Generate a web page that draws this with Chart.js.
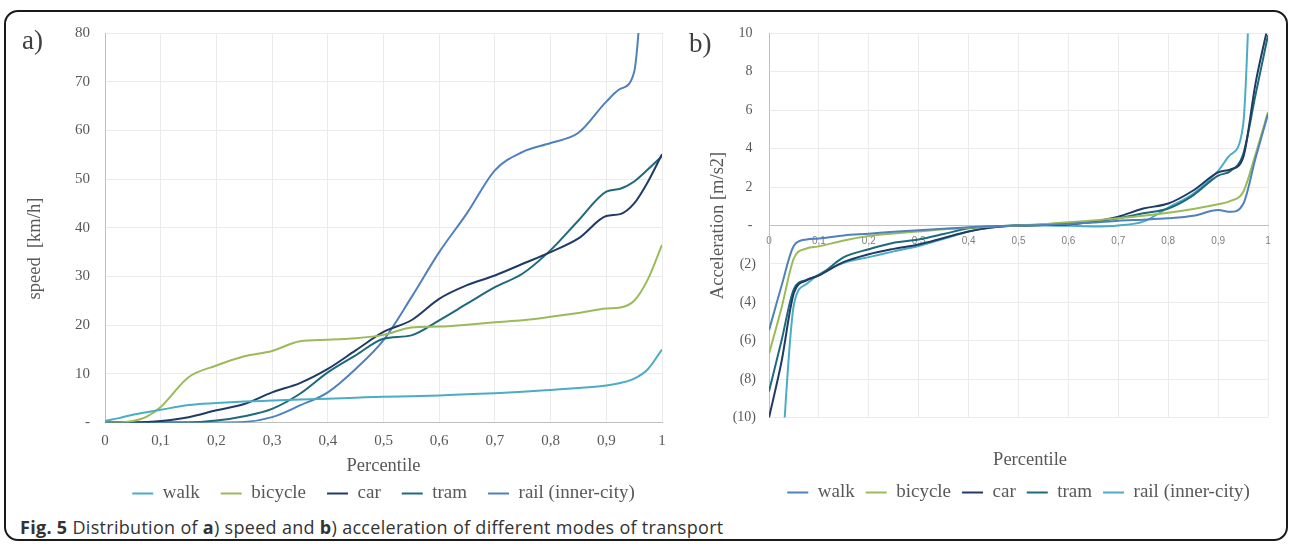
<!DOCTYPE html>
<html><head><meta charset="utf-8">
<script src="https://cdn.jsdelivr.net/npm/chart.js@4.4.0/dist/chart.umd.min.js"></script>
<style>
html,body{margin:0;padding:0;background:#fff;}
body{width:1290px;height:548px;position:relative;overflow:hidden;}
#frame{position:absolute;left:4px;top:10px;width:1284px;height:531px;border:2px solid #1a1a1a;border-radius:14px;box-sizing:border-box;}
.lbl{position:absolute;font-family:'Liberation Serif','Times New Roman',serif;font-size:27px;color:#404040;line-height:1;}
#cap{position:absolute;left:20px;top:515px;font-family:'Open Sans','Noto Sans',sans-serif;font-size:18px;letter-spacing:0.3px;color:#333;white-space:nowrap;}
#cap b{font-weight:700;}
canvas{position:absolute;}
</style></head>
<body>
<div id="frame"></div>
<canvas id="c1" width="672" height="504" style="left:10px;top:9px"></canvas>
<canvas id="c2" width="600" height="500" style="left:684px;top:12px"></canvas>
<div class="lbl" style="left:22px;top:27px">a)</div>
<div class="lbl" style="left:689px;top:30px">b)</div>
<div id="cap"><b>Fig. 5</b> Distribution of <b>a</b>) speed and <b>b</b>) acceleration of different modes of transport</div>
<script>
const percentile = [0, 0.025, 0.05, 0.075, 0.1, 0.15, 0.2, 0.25, 0.3, 0.35, 0.4, 0.45, 0.5, 0.55, 0.6, 0.65, 0.7, 0.75, 0.8, 0.85, 0.9, 0.925, 0.95, 0.975, 1];
const seriesNames = ['walk', 'bicycle', 'car', 'tram', 'rail (inner-city)'];

// speed [km/h]
const walkSpeed    = [0.3, 0.9, 1.6, 2.1, 2.6, 3.6, 4.0, 4.3, 4.5, 4.7, 4.9, 5.1, 5.3, 5.4, 5.55, 5.8, 6.0, 6.3, 6.7, 7.1, 7.6, 8.1, 9.0, 11.0, 15.0];
const bicycleSpeed = [0, 0, 0.3, 1.2, 3.2, 9.3, 11.7, 13.6, 14.7, 16.7, 17.0, 17.3, 18.0, 19.5, 19.7, 20.1, 20.6, 21.0, 21.7, 22.5, 23.4, 23.6, 25.0, 29.5, 36.5];
const carSpeed     = [0, 0, 0, 0.1, 0.3, 1.1, 2.5, 3.8, 6.2, 8.1, 11.0, 14.8, 18.6, 21.0, 25.4, 28.2, 30.2, 32.6, 35.0, 37.8, 42.4, 42.8, 45.0, 49.5, 55.1];
const tramSpeed    = [0, 0, 0, 0, 0, 0, 0.4, 1.3, 2.8, 5.9, 10.3, 13.8, 17.2, 17.9, 21.0, 24.4, 27.8, 30.6, 35.4, 41.5, 47.4, 48.0, 49.5, 52.0, 54.7];
const railSpeed    = [0, 0, 0, 0, 0, 0, 0, 0.1, 1.1, 3.5, 6.2, 11.0, 16.9, 25.7, 35.0, 43.0, 51.8, 55.6, 57.4, 59.5, 65.9, 68.5, 72.0, 110, 150];

// acceleration [m/s2]
const walkAccel    = [-5.46, -3.15, -1.05, -0.73, -0.68, -0.52, -0.43, -0.33, -0.25, -0.17, -0.09, -0.04, 0, 0.02, 0.08, 0.15, 0.25, 0.3, 0.37, 0.5, 0.8, 0.71, 1.1, 3.5, 5.8];
const bicycleAccel = [-6.68, -4.3, -1.7, -1.2, -1.09, -0.78, -0.55, -0.42, -0.31, -0.2, -0.12, -0.05, 0, 0.07, 0.17, 0.26, 0.37, 0.5, 0.66, 0.86, 1.1, 1.28, 1.73, 3.7, 5.9];
const carAccel     = [-10, -7.1, -3.5, -2.86, -2.6, -1.9, -1.5, -1.22, -0.99, -0.65, -0.31, -0.1, 0, 0.02, 0.05, 0.2, 0.46, 0.88, 1.14, 1.82, 2.76, 2.92, 3.52, 7.4, 10.4];
const tramAccel    = [-8.64, -6.0, -3.3, -2.84, -2.6, -1.65, -1.24, -0.9, -0.73, -0.45, -0.15, -0.05, 0, 0.03, 0.08, 0.18, 0.37, 0.63, 0.88, 1.57, 2.59, 2.84, 3.69, 6.8, 9.9];
const railAccel    = [-22, -12.5, -4.1, -3.05, -2.55, -1.95, -1.65, -1.35, -1.07, -0.7, -0.31, -0.1, 0, 0, -0.02, -0.05, 0, 0.2, 0.93, 1.65, 2.84, 3.69, 5.2, 22, 40];

const xTickLabels = ['0', '0,1', '0,2', '0,3', '0,4', '0,5', '0,6', '0,7', '0,8', '0,9', '1'];
const speedTickLabels = ['-', '10', '20', '30', '40', '50', '60', '70', '80'];
const accelTickLabels = ['(10)', '(8)', '(6)', '(4)', '(2)', '- ', '2 ', '4 ', '6 ', '8 ', '10 '];

const speedColors = ['#4bacc6', '#9bbb59', '#1f3b66', '#1d6a7a', '#4f81bd'];
const accelColors = ['#4f81bd', '#9bbb59', '#1f3b66', '#1d6a7a', '#4bacc6'];

const SERIF = "'Liberation Serif','Times New Roman',serif";
const GRAY = '#595959';
const GRID = '#ebebeb';
const AXIS = '#bfbfbf';

function mk(arrs, colors) {
  return arrs.map((a, k) => ({
    label: seriesNames[k],
    data: percentile.map((p, i) => ({x: p, y: a[i]})),
    borderColor: colors[k],
    backgroundColor: colors[k],
    borderWidth: 2,
    pointRadius: 0,
    fill: false,
    cubicInterpolationMode: 'monotone'
  }));
}

function legendOpts(pad) {
  return {
    position: 'bottom',
    fullSize: false,
    labels: {
      usePointStyle: true, pointStyle: 'line', pointStyleWidth: 21,
      color: GRAY, font: {family: SERIF, size: 19}, padding: pad
    }
  };
}

new Chart(document.getElementById('c1'), {
  type: 'line',
  data: {datasets: mk([walkSpeed, bicycleSpeed, carSpeed, tramSpeed, railSpeed], speedColors)},
  options: {
    responsive: false, animation: false,
    layout: {padding: {top: 1, right: 20, left: 14, bottom: 0}},
    plugins: {legend: legendOpts(21), tooltip: {enabled: false}},
    scales: {
      x: {type: 'linear', min: 0, max: 1,
        ticks: {stepSize: 0.1, color: GRAY, font: {family: SERIF, size: 15}, padding: 10,
          callback: (v, i) => xTickLabels[i]},
        grid: {color: GRID, drawTicks: false}, border: {color: AXIS},
        title: {display: true, text: 'Percentile', color: GRAY, font: {family: SERIF, size: 18.5}, padding: {top: -5, bottom: -14.7}}
      },
      y: {min: 0, max: 80,
        ticks: {stepSize: 10, color: GRAY, font: {family: SERIF, size: 15}, padding: 15,
          callback: (v, i) => speedTickLabels[i]},
        grid: {color: GRID, drawTicks: false}, border: {color: AXIS},
        title: {display: true, text: 'speed  [km/h]         ', color: GRAY, font: {family: SERIF, size: 18.5}, padding: {top: 0, bottom: 13.8}}
      }
    }
  }
});

new Chart(document.getElementById('c2'), {
  type: 'line',
  data: {datasets: mk([walkAccel, bicycleAccel, carAccel, tramAccel, railAccel], accelColors)},
  options: {
    responsive: false, animation: false,
    layout: {padding: {top: 1, right: 16, left: 23, bottom: 0}},
    plugins: {legend: legendOpts(11), tooltip: {enabled: false}},
    scales: {
      x: {type: 'linear', min: 0, max: 1, position: {y: 0},
        ticks: {stepSize: 0.1, color: '#7f7f7f', font: {family: "'Liberation Sans',Arial,sans-serif", size: 10}, padding: 10,
          callback: (v, i) => xTickLabels[i]},
        grid: {color: GRID, drawTicks: false}, border: {color: AXIS}
      },
      x2: {type: 'linear', min: 0, max: 1, position: 'bottom',
        ticks: {display: false}, grid: {display: false}, border: {display: false},
        title: {display: true, text: '     Percentile', color: GRAY, font: {family: SERIF, size: 18.5}, padding: {top: 23.9, bottom: 0.4}}
      },
      y: {min: -10, max: 10,
        ticks: {stepSize: 2, color: GRAY, font: {family: SERIF, size: 14}, padding: 13,
          callback: (v, i) => accelTickLabels[i]},
        grid: {color: GRID, drawTicks: false}, border: {color: AXIS},
        title: {display: true, text: 'Acceleration [m/s2]', color: GRAY, font: {family: SERIF, size: 18.5}, padding: {top: 0, bottom: -9.5}}
      }
    }
  }
});
</script>
</body></html>
